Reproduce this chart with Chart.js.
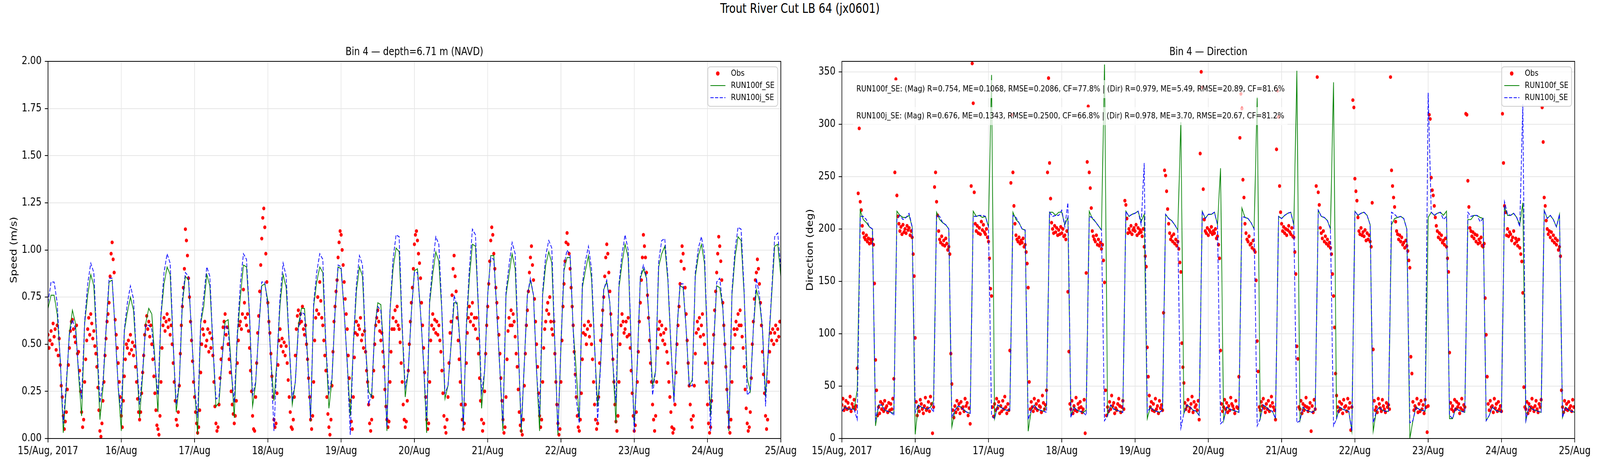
<!DOCTYPE html>
<html>
<head>
<meta charset="utf-8">
<script src="https://cdn.jsdelivr.net/npm/chart.js@4.4.1/dist/chart.umd.min.js"></script>
<style>
  html, body { margin: 0; padding: 0; background: #fff; overflow: hidden; width: 100%; height: 100%; }
  #wrap { position: relative; width: 100vw; height: 100vh; overflow: hidden; background: #fff; }
  #fig { position: absolute; left: 0; top: 0; width: 5000px; height: 1200px; background: #fff;
         font-family: "DejaVu Sans", sans-serif; transform-origin: 0 0; }
  #suptitle { position: absolute; left: 0; top: 2px; width: 5000px; text-align: center; font-size: 33px; color: #000; }
  canvas { position: absolute; top: 0; }
</style>
</head>
<body>
<div id="wrap">
<div id="fig">
  <div id="suptitle">Trout River Cut LB 64 (jx0601)</div>
  <canvas id="speed" width="2500" height="1200" style="left:0px"></canvas>
  <canvas id="dir" width="2500" height="1200" style="left:2500px"></canvas>
</div>
</div>
<script>
// x axis is hours since 15/Aug/2017 00:00, one tick per day
const dayLabels = ['15/Aug, 2017', '16/Aug', '17/Aug', '18/Aug', '19/Aug', '20/Aug',
  '21/Aug', '22/Aug', '23/Aug', '24/Aug', '25/Aug'];
const obsPerHour = 3;

// observed speed (m/s), 3 samples per hour
const speedObs = [
  0.55,0.48,0.52, 0.57,0.50,0.61, 0.54,0.58,0.47, 0.60,0.44,0.53, 0.39,0.28,0.22, 0.12,0.05,0.09,
  0.14,0.26,0.39, 0.48,0.57,0.62, 0.63,0.58,0.54, 0.51,0.60,0.45, 0.46,0.36,0.25, 0.14,0.06,0.10,
  0.30,0.42,0.52, 0.58,0.64,0.55, 0.66,0.61,0.53, 0.57,0.49,0.45, 0.38,0.27,0.15, 0.04,0.01,0.08,
  0.20,0.30,0.44, 0.53,0.62,0.66, 0.72,0.86,0.98, 1.04,0.95,0.88, 0.63,0.55,0.48, 0.40,0.30,0.22,

  0.12,0.06,0.20, 0.33,0.42,0.50, 0.48,0.52,0.45, 0.55,0.47,0.51, 0.44,0.49,0.38, 0.30,0.21,0.14,
  0.10,0.14,0.24, 0.35,0.44,0.55, 0.60,0.65,0.58, 0.62,0.54,0.60, 0.50,0.42,0.33, 0.24,0.15,0.07,
  0.05,0.02,0.12, 0.30,0.48,0.60, 0.64,0.57,0.62, 0.66,0.59,0.63, 0.55,0.60,0.50, 0.40,0.30,0.20,
  0.10,0.07,0.14, 0.28,0.45,0.60, 0.70,0.80,0.90, 1.11,1.05,0.97, 0.85,0.75,0.62, 0.52,0.41,0.30,

  0.22,0.14,0.08, 0.03,0.06,0.15, 0.35,0.50,0.58, 0.55,0.62,0.49, 0.52,0.58,0.46, 0.56,0.48,0.53,
  0.44,0.30,0.17, 0.08,0.04,0.06, 0.18,0.32,0.42, 0.48,0.59,0.62, 0.66,0.55,0.59, 0.50,0.42,0.35,
  0.25,0.18,0.13, 0.08,0.12,0.20, 0.40,0.52,0.60, 0.62,0.58,0.66, 0.79,0.72,0.64, 0.60,0.66,0.57,
  0.48,0.36,0.25, 0.12,0.05,0.04, 0.22,0.40,0.56, 0.65,0.78,0.92, 1.06,1.17,1.22, 1.12,0.98,0.83,

  0.72,0.62,0.56, 0.45,0.33,0.22, 0.10,0.06,0.08, 0.24,0.39,0.52, 0.58,0.49,0.53, 0.46,0.51,0.44,
  0.49,0.40,0.31, 0.22,0.14,0.06, 0.05,0.10,0.22, 0.44,0.58,0.65, 0.68,0.61,0.66, 0.62,0.70,0.58,
  0.55,0.60,0.50, 0.42,0.32,0.22, 0.10,0.05,0.12, 0.30,0.52,0.64, 0.68,0.75,0.66, 0.83,0.73,0.64,
  0.60,0.52,0.44, 0.36,0.22,0.13, 0.06,0.02,0.10, 0.28,0.46,0.62, 0.70,0.78,0.84, 0.96,1.04,1.10,

  1.08,1.00,0.92, 0.83,0.74,0.66, 0.58,0.44,0.32, 0.20,0.09,0.05, 0.22,0.43,0.56, 0.62,0.55,0.60,
  0.58,0.64,0.52, 0.55,0.48,0.57, 0.46,0.36,0.30, 0.18,0.08,0.04, 0.10,0.22,0.36, 0.50,0.60,0.64,
  0.68,0.62,0.57, 0.52,0.56,0.46, 0.38,0.26,0.17, 0.10,0.06,0.09, 0.30,0.46,0.58, 0.64,0.58,0.68,
  0.62,0.70,0.60, 0.58,0.51,0.40, 0.30,0.18,0.10, 0.06,0.09,0.20, 0.36,0.50,0.62, 0.72,0.80,0.90,

  1.03,1.08,1.10, 1.05,0.98,0.93, 0.85,0.72,0.60, 0.48,0.35,0.22, 0.10,0.05,0.08, 0.30,0.52,0.60,
  0.66,0.58,0.63, 0.56,0.62,0.55, 0.60,0.52,0.46, 0.36,0.24,0.12, 0.06,0.03,0.10, 0.22,0.40,0.56,
  0.62,0.76,0.90, 0.97,0.86,0.78, 0.64,0.52,0.42, 0.30,0.18,0.10, 0.05,0.08,0.18, 0.40,0.56,0.64,
  0.70,0.62,0.66, 0.72,0.60,0.64, 0.58,0.64,0.53, 0.45,0.32,0.20, 0.10,0.04,0.08, 0.25,0.45,0.60,

  0.70,0.82,0.94, 1.05,1.12,1.08, 0.98,0.90,0.80, 0.72,0.64,0.55, 0.45,0.32,0.20, 0.10,0.03,0.06,
  0.22,0.42,0.57, 0.64,0.60,0.68, 0.60,0.66,0.62, 0.54,0.45,0.38, 0.26,0.14,0.07, 0.04,0.02,0.10,
  0.28,0.45,0.60, 0.68,0.78,0.88, 0.96,1.02,0.92, 0.84,0.74,0.62, 0.50,0.38,0.24, 0.12,0.06,0.10,
  0.30,0.48,0.58, 0.62,0.68,0.72, 0.66,0.75,0.62, 0.58,0.55,0.62, 0.45,0.30,0.18, 0.08,0.02,0.05,

  0.30,0.52,0.70, 0.82,0.94,1.04, 1.09,1.03,0.98, 0.90,0.80,0.70, 0.60,0.46,0.34, 0.22,0.12,0.06,
  0.04,0.10,0.24, 0.42,0.56,0.60, 0.55,0.50,0.58, 0.62,0.54,0.60, 0.50,0.42,0.30, 0.18,0.10,0.05,
  0.08,0.22,0.40, 0.52,0.60,0.68, 0.75,0.86,0.96, 1.03,0.98,0.88, 0.78,0.66,0.55, 0.42,0.30,0.18,
  0.09,0.04,0.12, 0.30,0.50,0.60, 0.66,0.62,0.56, 0.58,0.62,0.54, 0.64,0.55,0.48, 0.36,0.24,0.12,

  0.04,0.07,0.14, 0.30,0.46,0.62, 0.72,0.84,0.96, 1.08,1.02,0.96, 0.88,0.76,0.64, 0.52,0.40,0.30,
  0.18,0.10,0.04, 0.12,0.30,0.48, 0.58,0.62,0.55, 0.60,0.52,0.56, 0.50,0.58,0.46, 0.40,0.30,0.22,
  0.14,0.06,0.03, 0.05,0.18,0.35, 0.50,0.60,0.70, 0.82,0.94,1.02, 0.98,0.90,0.80, 0.66,0.52,0.40,
  0.28,0.18,0.10, 0.06,0.12,0.28, 0.45,0.56,0.62, 0.58,0.64,0.54, 0.60,0.66,0.55, 0.50,0.40,0.30,

  0.18,0.08,0.03, 0.06,0.20,0.40, 0.55,0.68,0.78, 0.88,0.98,1.07, 1.02,0.94,0.84, 0.72,0.60,0.50,
  0.38,0.26,0.14, 0.06,0.03,0.10, 0.30,0.48,0.58, 0.55,0.62,0.58, 0.66,0.60,0.68, 0.60,0.54,0.48,
  0.38,0.26,0.16, 0.08,0.04,0.06, 0.14,0.32,0.50, 0.62,0.74,0.84, 0.88,0.95,0.90, 0.82,0.72,0.60,
  0.46,0.34,0.24, 0.12,0.05,0.10, 0.30,0.46,0.56, 0.52,0.58,0.50, 0.56,0.60,0.52, 0.58,0.54,0.62
];

// modelled speed (m/s), hourly
const speedRunF = [
  0.69,0.76,0.76,0.66,0.42,0.03,0.27,0.56,0.68,0.61,0.34,0.12,0.61,0.76,0.87,0.81,0.50,0.10,0.27,0.57,0.83,0.84,0.57,0.27,
  0.04,0.57,0.67,0.75,0.68,0.42,0.11,0.34,0.61,0.69,0.66,0.42,0.14,0.65,0.82,0.91,0.87,0.50,0.14,0.29,0.71,0.86,0.84,0.57,
  0.27,0.02,0.61,0.70,0.87,0.81,0.50,0.17,0.19,0.42,0.62,0.63,0.38,0.11,0.54,0.75,0.92,0.91,0.65,0.17,0.29,0.57,0.81,0.82,
  0.73,0.42,0.20,0.42,0.71,0.87,0.80,0.50,0.18,0.30,0.60,0.69,0.69,0.44,0.09,0.70,0.83,0.91,0.88,0.49,0.16,0.31,0.67,0.91,
  0.90,0.67,0.40,0.12,0.49,0.78,0.91,0.86,0.49,0.25,0.22,0.58,0.72,0.71,0.45,0.04,0.67,0.90,1.01,0.99,0.58,0.22,0.36,0.67,
  0.89,0.90,0.67,0.40,0.03,0.72,0.87,0.99,0.94,0.67,0.21,0.28,0.49,0.72,0.72,0.49,0.05,0.58,0.85,1.03,1.02,0.67,0.16,0.36,
  0.76,0.97,0.97,0.67,0.36,0.04,0.76,0.87,0.98,0.90,0.49,0.03,0.40,0.76,0.84,0.76,0.36,0.04,0.76,0.92,0.99,0.93,0.49,0.02,
  0.49,0.89,0.96,0.96,0.58,0.36,0.09,0.80,0.89,0.97,0.85,0.49,0.17,0.40,0.79,0.83,0.72,0.40,0.08,0.80,0.93,1.03,0.96,0.49,
  0.06,0.40,0.85,0.90,0.85,0.58,0.28,0.36,0.91,0.98,1.02,0.84,0.49,0.20,0.58,0.81,0.80,0.58,0.28,0.31,0.86,0.97,1.03,0.93,
  0.49,0.12,0.49,0.81,0.80,0.69,0.40,0.04,0.76,0.96,1.07,1.05,0.76,0.32,0.25,0.58,0.79,0.73,0.58,0.22,0.49,0.76,1.02,1.03,0.86
];
const speedRunJ = [
  0.72,0.83,0.83,0.72,0.42,0.08,0.30,0.55,0.63,0.58,0.36,0.21,0.62,0.82,0.93,0.88,0.52,0.19,0.30,0.58,0.85,0.85,0.57,0.27,
  0.13,0.58,0.72,0.81,0.74,0.42,0.18,0.36,0.60,0.60,0.58,0.40,0.23,0.66,0.88,0.98,0.93,0.50,0.18,0.30,0.74,0.88,0.86,0.57,
  0.27,0.11,0.62,0.75,0.91,0.86,0.50,0.21,0.22,0.42,0.60,0.58,0.36,0.19,0.56,0.82,0.98,0.95,0.66,0.23,0.30,0.57,0.83,0.83,
  0.70,0.42,0.04,0.42,0.75,0.93,0.86,0.50,0.21,0.30,0.58,0.67,0.66,0.42,0.10,0.72,0.88,0.98,0.95,0.50,0.24,0.32,0.68,0.92,
  0.91,0.67,0.40,0.02,0.50,0.82,0.97,0.92,0.50,0.18,0.24,0.58,0.70,0.68,0.44,0.06,0.68,0.95,1.08,1.07,0.60,0.27,0.36,0.67,
  0.88,0.88,0.67,0.40,0.10,0.74,0.92,1.07,1.03,0.68,0.24,0.28,0.50,0.76,0.70,0.48,0.06,0.60,0.90,1.11,1.08,0.68,0.24,0.36,
  0.76,0.96,0.95,0.67,0.36,0.08,0.78,0.92,1.04,0.98,0.50,0.06,0.40,0.76,0.85,0.76,0.36,0.12,0.78,0.97,1.05,1.01,0.50,0.04,
  0.50,0.92,1.00,0.97,0.58,0.21,0.08,0.82,0.94,1.02,0.90,0.50,0.09,0.40,0.79,0.84,0.72,0.40,0.19,0.82,0.98,1.08,1.00,0.50,
  0.03,0.40,0.86,0.92,0.86,0.58,0.23,0.36,0.94,1.05,1.06,0.86,0.50,0.19,0.58,0.82,0.82,0.58,0.28,0.28,0.88,1.01,1.07,0.98,
  0.50,0.04,0.50,0.83,0.85,0.70,0.40,0.05,0.78,1.00,1.12,1.11,0.78,0.23,0.25,0.58,0.85,0.76,0.58,0.17,0.50,0.78,1.07,1.09,0.90
];

// observed direction (deg), 3 samples per hour
const dirObs = [
  32,38,27, 30,36,28, 34,29,40, 26,33,30, 37,28,31, 67,234,296,
  226,218,203, 196,192,190, 194,188,191, 186,190,187, 190,185,148, 75,46,22,
  30,24,35, 28,33,26, 36,29,31, 25,34,27, 33,28,38, 57,254,343,
  232,212,205, 198,202,195, 204,197,200, 196,203,199, 201,194,198, 192,176,155,

  96,35,22, 30,26,37, 33,28,24, 31,39,27, 29,35,26, 40,33,5,
  30,240,254, 226,213,198, 190,187,193, 185,189,184, 191,186,180, 183,176,81,
  52,27,20, 31,25,36, 28,33,24, 35,29,30, 26,38,31, 34,22,29,
  14,241,358, 320,235,205, 198,203,196, 201,195,207, 199,204,197, 195,200,192,

  188,172,143, 136,30,21, 33,27,38, 29,35,24, 31,26,36, 28,40,30,
  24,33,27, 84,244,309, 254,222,205, 194,190,188, 192,186,189, 187,191,183,
  185,178,167, 144,54,28, 35,30,26, 38,29,33, 27,36,31, 30,25,41,
  34,28,32, 46,254,344, 263,229,206, 200,196,203, 197,201,194, 199,195,202,

  196,200,193, 194,190,198, 140,83,33, 28,36,24, 31,27,39, 26,33,29,
  35,30,25, 28,37,5, 158,264,317, 254,239,220, 198,193,190, 188,194,185,
  190,184,187, 181,185,170, 149,46,22, 30,26,35, 28,41,31, 34,24,29,
  27,33,38, 31,25,30, 36,28,227, 223,210,196, 200,197,203, 195,199,201,

  198,204,194, 201,196,199, 197,193,200, 183,174,164, 87,59,41, 30,35,27,
  33,26,38, 28,31,24, 36,29,32, 27,120,256, 251,236,219, 205,196,190,
  193,188,195, 186,190,184, 188,181,168, 159,91,68, 53,34,28, 31,37,26,
  29,33,40, 25,35,30, 32,27,36, 18,272,350, 335,238,209, 198,196,201,

  194,199,197, 202,195,198, 196,200,191, 193,185,172, 84,33,26, 30,37,28,
  34,25,31, 27,39,33, 31,28,24, 36,30,29, 59,287,329, 315,247,230,
  205,196,190, 188,193,185, 186,182,189, 180,178,151, 93,64,30, 27,35,31,
  38,29,25, 33,28,36, 26,31,40, 34,30,27, 18,276,332, 307,241,216,

  205,198,202, 196,200,194, 199,203,197, 195,201,193, 192,178,157, 88,76,30,
  28,36,24, 33,27,31, 39,30,26, 29,34,7, 31,25,37, 28,241,345,
  235,223,201, 196,191,198, 188,193,186, 190,184,187, 182,176,157, 136,106,62,
  41,30,26, 35,28,33, 24,37,30, 31,26,38, 29,34,8, 30,323,316,

  248,236,227, 211,198,195, 201,194,197, 193,199,189, 196,190,194, 188,183,225,
  85,36,27, 30,25,38, 33,29,26, 37,31,28, 25,34,30, 32,28,345,
  256,241,230, 221,207,198, 195,190,194, 188,192,185, 187,182,189, 184,179,170,
  163,78,62, 35,27,31, 29,38,25, 33,26,36, 28,32,24, 37,30,6,

  31,309,305, 249,237,232, 222,211,203, 198,192,196, 190,194,187, 189,185,191,
  183,172,159, 82,34,28, 31,26,37, 28,35,30, 33,24,29, 38,27,32,
  30,310,309, 246,221,201, 198,193,197, 191,195,188, 194,186,190, 187,192,184,
  183,186,134, 99,59,33, 27,36,30, 31,25,38, 29,33,26, 35,28,31,

  26,310,263, 222,216,194, 200,193,197, 195,189,192, 198,186,191, 188,184,190,
  182,176,169, 139,49,30, 28,35,24, 33,27,30, 38,29,26, 31,36,28,
  25,33,30, 37,316,283, 230,222,208, 200,195,198, 192,197,189, 194,187,191,
  185,189,180, 183,174,46, 30,25,36, 28,33,27, 35,29,31, 26,37,30
];

// modelled direction (deg), hourly
const dirRunF = [
  26,30,28,28,28,46,218,209,206,202,200,12,32,32,27,26,25,24,217,213,211,211,213,202,
  4,32,30,29,28,30,36,216,209,206,204,200,11,27,31,30,27,25,24,217,212,213,211,212,
  202,347,19,32,30,28,27,27,216,209,206,200,199,7,27,32,28,27,26,32,216,216,213,216,
  216,204,211,22,30,27,26,25,27,217,210,207,203,199,357,22,32,28,27,26,25,217,212,214,
  215,217,207,214,19,30,27,26,25,27,214,210,208,204,199,302,24,32,30,27,26,22,217,210,
  214,214,216,204,258,17,30,28,27,26,25,220,211,210,206,200,326,19,32,30,27,26,19,212,
  210,213,215,216,204,351,17,30,27,26,25,27,218,212,211,208,200,340,19,30,28,27,26,7,
  217,213,215,216,213,204,7,26,30,27,26,26,204,210,211,212,210,200,0,17,30,28,27,26,
  211,216,213,215,216,213,217,19,19,29,27,26,25,209,209,213,213,211,210,17,22,30,27,26,
  25,221,213,213,215,211,204,225,17,31,28,27,26,25,218,210,213,209,202,214,20,30,27,26,25
];
const dirRunJ = [
  26,30,28,28,28,18,212,212,209,202,200,18,32,32,27,26,25,22,209,213,209,211,215,202,
  25,32,30,29,28,30,25,213,212,206,204,200,20,27,31,30,27,25,24,212,212,213,213,212,
  202,22,19,32,30,28,27,27,213,211,206,200,199,18,27,32,28,27,26,25,216,212,213,213,
  218,202,225,20,30,27,26,25,22,212,211,207,203,199,17,22,32,28,27,26,25,217,212,214,
  215,217,204,263,25,30,27,26,25,27,214,210,208,204,199,10,24,32,30,27,26,22,217,210,
  214,214,216,204,14,17,30,28,27,26,25,212,211,210,206,200,12,19,32,30,27,26,19,212,
  210,213,215,216,204,15,17,30,27,26,25,27,218,212,211,208,200,12,19,30,28,27,26,7,
  217,213,215,216,213,204,15,26,30,27,26,26,216,214,211,212,210,200,15,17,30,28,27,26,
  330,216,213,215,216,209,212,22,19,29,27,26,25,216,212,213,213,207,210,17,22,30,27,26,
  25,226,214,213,215,211,202,319,17,31,28,27,26,25,218,210,213,209,202,214,20,30,27,26,25
];

const statsLines = [
  'RUN100f_SE: (Mag) R=0.754, ME=0.1068, RMSE=0.2086, CF=77.8% | (Dir) R=0.979, ME=5.49, RMSE=20.89, CF=81.6%',
  'RUN100j_SE: (Mag) R=0.676, ME=0.1343, RMSE=0.2500, CF=66.8% | (Dir) R=0.978, ME=3.70, RMSE=20.67, CF=81.2%'
];

const FONT = '"DejaVu Sans", sans-serif';
Chart.defaults.font.family = FONT;
Chart.defaults.color = '#000';

// the figure is laid out at 5000x1200 and stretched onto whatever viewport the browser really has
const fig = document.getElementById('fig');
fig.style.transform = 'scale(' + (window.innerWidth / 5000) + ',' + (window.innerHeight / 1200) + ')';

const obsPts = arr => arr.map((v, i) => ({ x: i / obsPerHour, y: v }));
const hourPts = arr => arr.map((v, i) => ({ x: i, y: v }));

function drawLegend(chart) {
  const ctx = chart.ctx, ca = chart.chartArea;
  const w = 218, h = 101, r = 7;
  const x = ca.right - 10 - w, y = ca.top + 14;
  ctx.beginPath();
  ctx.moveTo(x + r, y);
  ctx.lineTo(x + w - r, y);
  ctx.arcTo(x + w, y, x + w, y + r, r);
  ctx.lineTo(x + w, y + h - r);
  ctx.arcTo(x + w, y + h, x + w - r, y + h, r);
  ctx.lineTo(x + r, y + h);
  ctx.arcTo(x, y + h, x, y + h - r, r);
  ctx.lineTo(x, y + r);
  ctx.arcTo(x, y, x + r, y, r);
  ctx.closePath();
  ctx.fillStyle = 'rgba(255,255,255,0.8)';
  ctx.fill();
  ctx.strokeStyle = '#cccccc';
  ctx.lineWidth = 2;
  ctx.stroke();

  chart.data.datasets.forEach((ds, i) => {
    const cy = y + 17 + i * 31;
    if (ds.showLine === false) {
      ctx.beginPath();
      ctx.arc(x + 31, cy, 5.5, 0, Math.PI * 2);
      ctx.fillStyle = ds.pointBackgroundColor;
      ctx.fill();
    } else {
      ctx.beginPath();
      ctx.setLineDash(ds.borderDash || []);
      ctx.moveTo(x + 8, cy);
      ctx.lineTo(x + 55, cy);
      ctx.strokeStyle = ds.borderColor;
      ctx.lineWidth = ds.borderWidth;
      ctx.stroke();
      ctx.setLineDash([]);
    }
    ctx.fillStyle = '#000';
    ctx.font = '22px ' + FONT;
    ctx.textAlign = 'left';
    ctx.textBaseline = 'middle';
    ctx.fillText(ds.label, x + 72, cy);
  });
}

function panelPlugin(title, stats) {
  return {
    id: 'panel',
    afterDraw(chart) {
      const ctx = chart.ctx, ca = chart.chartArea;
      ctx.save();
      // stats text sits on a translucent white box over the data
      ctx.font = '22px ' + FONT;
      ctx.textAlign = 'left';
      ctx.textBaseline = 'middle';
      stats.forEach((t, i) => {
        const cy = ca.top + 71 + i * 69;
        const x0 = ca.left + 45;
        const tw = ctx.measureText(t).width;
        ctx.fillStyle = 'rgba(255,255,255,0.7)';
        ctx.fillRect(x0 - 10, cy - 23, tw + 20, 46);
        ctx.fillStyle = '#000';
        ctx.fillText(t, x0, cy);
      });
      // axes frame
      ctx.strokeStyle = '#000';
      ctx.lineWidth = 2;
      ctx.strokeRect(ca.left, ca.top, ca.right - ca.left, ca.bottom - ca.top);
      // panel title
      ctx.font = '28px ' + FONT;
      ctx.textAlign = 'center';
      ctx.textBaseline = 'alphabetic';
      ctx.fillStyle = '#000';
      ctx.fillText(title, (ca.left + ca.right) / 2, ca.top - 16);
      drawLegend(chart);
      ctx.restore();
    }
  };
}

function makeChart(id, cfg) {
  const gridOpts = { color: '#e6e6e6', lineWidth: 2, tickColor: '#000', tickLength: 10, tickWidth: 2 };
  return new Chart(document.getElementById(id), {
    type: 'line',
    data: {
      datasets: [
        { label: 'Obs', data: obsPts(cfg.obs), showLine: false, pointRadius: 4.8, pointBorderWidth: 0,
          pointBackgroundColor: '#ff0000', pointBorderColor: '#ff0000', order: 3 },
        { label: 'RUN100f_SE', data: hourPts(cfg.runF), borderColor: '#008000', borderWidth: 2.2,
          pointRadius: 0, tension: 0, fill: false, order: 2 },
        { label: 'RUN100j_SE', data: hourPts(cfg.runJ), borderColor: '#0000ff', borderWidth: 2.2,
          borderDash: [10, 4.5], pointRadius: 0, tension: 0, fill: false, order: 1 }
      ]
    },
    options: {
      responsive: false,
      animation: false,
      devicePixelRatio: 1,
      events: [],
      layout: { padding: { left: 0, right: cfg.padRight, top: 157, bottom: 0 } },
      plugins: { legend: { display: false }, tooltip: { enabled: false }, title: { display: false } },
      scales: {
        x: {
          type: 'linear', min: 0, max: 240,
          grid: gridOpts,
          border: { display: false },
          ticks: { stepSize: 24, autoSkip: false, maxRotation: 0, padding: 6,
            font: { size: 28 }, color: '#000',
            callback: v => dayLabels[Math.round(v / 24)] },
          afterFit: s => { s.height = 78; }
        },
        y: {
          type: 'linear', min: cfg.yMin, max: cfg.yMax,
          grid: gridOpts,
          border: { display: false },
          ticks: { stepSize: cfg.yStep, includeBounds: false, padding: 10,
            font: { size: 28 }, color: '#000', callback: cfg.yFmt },
          title: { display: true, text: cfg.yTitle, font: { size: 28 }, color: '#000',
            padding: { top: cfg.titlePad, bottom: 0 } },
          afterFit: s => { s.width = cfg.yWidth; }
        }
      }
    },
    plugins: [panelPlugin(cfg.title, cfg.stats)]
  });
}

makeChart('speed', {
  obs: speedObs, runF: speedRunF, runJ: speedRunJ,
  yMin: 0, yMax: 2, yStep: 0.25, yFmt: v => v.toFixed(2),
  yTitle: 'Speed (m/s)', yWidth: 150, titlePad: 28, padRight: 60,
  title: 'Bin 4 \u2014 depth=6.71 m (NAVD)', stats: []
});

makeChart('dir', {
  obs: dirObs, runF: dirRunF, runJ: dirRunJ,
  yMin: 0, yMax: 360, yStep: 50, yFmt: v => String(v),
  yTitle: 'Direction (deg)', yWidth: 131, titlePad: 16, padRight: 79,
  title: 'Bin 4 \u2014 Direction', stats: statsLines
});
</script>
</body>
</html>
